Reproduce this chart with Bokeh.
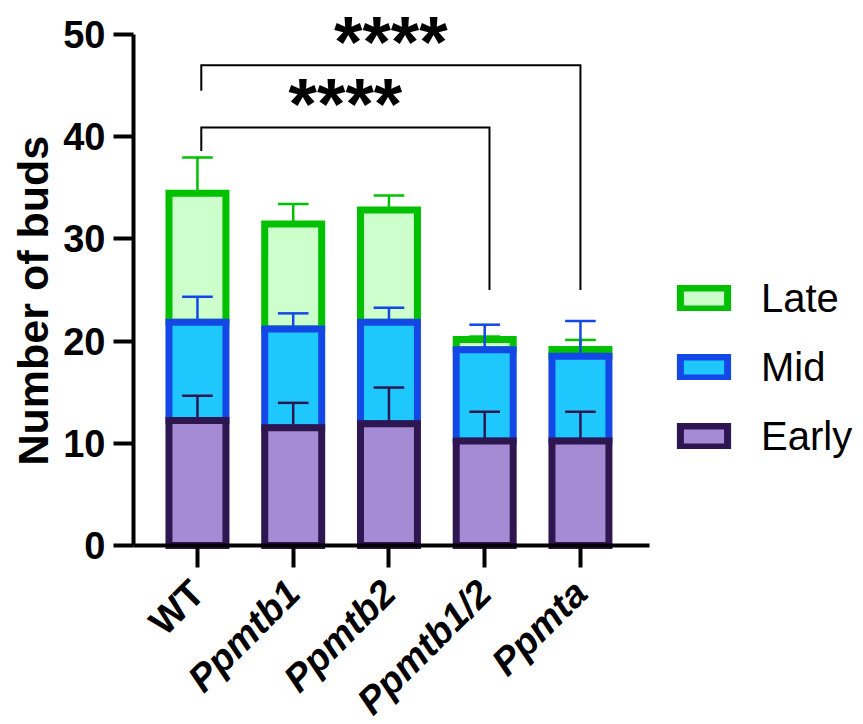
import math
import numpy as np
from bokeh.plotting import figure
from bokeh.models import (FixedTicker, Range1d, Legend, LegendItem, Label, Title)
from bokeh.embed import file_html
from bokeh.resources import INLINE

# ---------------- data ----------------
genotypes = ["WT", "Ppmtb1", "Ppmtb2", "Ppmtb1/2", "Ppmta"]
genotype_italic = [False, True, True, True, True]
early_mean = [12.24, 11.52, 11.91, 10.22, 10.22]
early_sd = [2.41, 2.44, 3.55, 2.87, 2.87]
mid_mean = [9.61, 9.67, 9.94, 8.95, 8.30]
mid_sd = [2.49, 1.53, 1.42, 2.44, 3.45]
late_mean = [12.62, 10.28, 10.99, 0.98, 0.67]
late_sd = [3.49, 1.96, 1.41, 0.30, 0.93]
y_ticks = [0, 10, 20, 30, 40, 50]

# significance brackets
cmp_from = [0, 0]
cmp_to = [3, 4]
cmp_label = ["****", "****"]
cmp_height = [40.9, 47.0]
cmp_left_end = [38.6, 44.5]
cmp_right_end = [25.0, 25.0]

FONT = "Liberation Sans"
late_fill, late_line = "#CCFFCC", "#00C000"
mid_fill, mid_line = "#1EC8FF", "#1448E6"
early_fill, early_line = "#A58BD3", "#2E1650"

x = np.arange(len(genotypes), dtype=float)
early_top = np.array(early_mean)
mid_top = early_top + np.array(mid_mean)
late_top = mid_top + np.array(late_mean)

H = 724
p = figure(width=860, height=H, output_backend="svg", toolbar_location=None,
           x_axis_location="above",
           x_range=Range1d(-0.668, 6.925), y_range=Range1d(-17.51, 52.94),
           min_border_left=133, min_border_right=0, min_border_top=4,
           min_border_bottom=0)
p.outline_line_color = None
p.grid.visible = False
p.background_fill_color = "white"

W = 0.595
bar_kw = dict(width=W, line_width=7, line_join="miter")
late_r = p.vbar(x=x, bottom=mid_top, top=late_top, fill_color=late_fill,
                line_color=late_line, **bar_kw)
mid_r = p.vbar(x=x, bottom=early_top, top=mid_top, fill_color=mid_fill,
               line_color=mid_line, **bar_kw)
early_r = p.vbar(x=x, bottom=0, top=early_top, fill_color=early_fill,
                 line_color=early_line, **bar_kw)

CAP = 0.16
for tops, sd, col in [(late_top, late_sd, late_line),
                      (mid_top, mid_sd, mid_line),
                      (early_top, early_sd, early_line)]:
    hi = tops + np.array(sd)
    p.segment(x0=x, y0=tops, x1=x, y1=hi, line_color=col, line_width=2.5)
    p.segment(x0=x - CAP, y0=hi, x1=x + CAP, y1=hi, line_color=col,
              line_width=2.5)

# brackets
for a, b, lab, h, le, re in zip(cmp_from, cmp_to, cmp_label, cmp_height,
                                cmp_left_end, cmp_right_end):
    xl = x[a] + 0.04
    xr = x[b] + (0.05 if b == 3 else 0.0)
    p.line(x=[xl, xl, xr, xr], y=[le, h, h, re], line_color="black",
           line_width=2, line_join="miter")
    p.add_layout(Label(x=(xl + xr) / 2, y=h, text=lab, text_align="center",
                       text_baseline="alphabetic", y_offset=24,
                       text_font=FONT, text_font_size="73px",
                       text_font_style="bold", text_color="black"))

# y axis
yax = p.yaxis[0]
yax.ticker = FixedTicker(ticks=y_ticks)
yax.bounds = (0, 50)
yax.axis_line_width = 4
yax.axis_line_color = "black"
yax.major_tick_line_width = 4
yax.major_tick_line_color = "black"
yax.major_tick_out = 20
yax.major_tick_in = 0
yax.minor_tick_line_color = None
yax.major_label_text_font = FONT
yax.major_label_text_font_size = "38px"
yax.major_label_text_font_style = "bold"
yax.major_label_text_color = "black"
yax.major_label_standoff = 8

p.add_layout(Title(text="Number of buds", align="left", offset=259,
                   vertical_align="top",
                   text_font=FONT, text_font_size="43px",
                   text_font_style="bold", text_color="black",
                   text_line_height=1.0, standoff=4), "left")

# x axis, drawn at y = 0 with ticks pointing down
xax = p.xaxis[0]
xax.fixed_location = 0
xax.ticker = FixedTicker(ticks=list(x))
xax.bounds = (-0.668, 4.70)
xax.axis_line_width = 4
xax.axis_line_color = "black"
xax.axis_line_cap = "square"
xax.major_tick_line_width = 4
xax.major_tick_line_color = "black"
xax.major_tick_out = 0
xax.major_tick_in = 22
xax.minor_tick_line_color = None
xax.major_label_standoff = 0
xax.major_label_text_font_size = "1px"
xax.major_label_overrides = {float(v): "" for v in x}

# category labels (WT upright, gene names italic), rotated 45 degrees
for xi, name, it in zip(x, genotypes, genotype_italic):
    p.add_layout(Label(x=xi, y=0, text=name, angle=math.pi / 4,
                       text_align="right", text_baseline="middle",
                       x_offset=0, y_offset=-41, text_font=FONT,
                       text_font_size="38px",
                       text_font_style="bold italic" if it else "bold",
                       text_color="black"))

legend = Legend(items=[LegendItem(label="Late", renderers=[late_r]),
                       LegendItem(label="Mid", renderers=[mid_r]),
                       LegendItem(label="Early", renderers=[early_r])],
                location=(541, 265), glyph_width=59, glyph_height=26,
                label_standoff=28, label_height=46, spacing=23,
                label_text_font=FONT, label_text_font_size="40px",
                label_text_color="black", padding=0, margin=0,
                border_line_color=None, background_fill_alpha=0)
p.add_layout(legend, "center")

open("out.html", "w").write(file_html(p, INLINE))
